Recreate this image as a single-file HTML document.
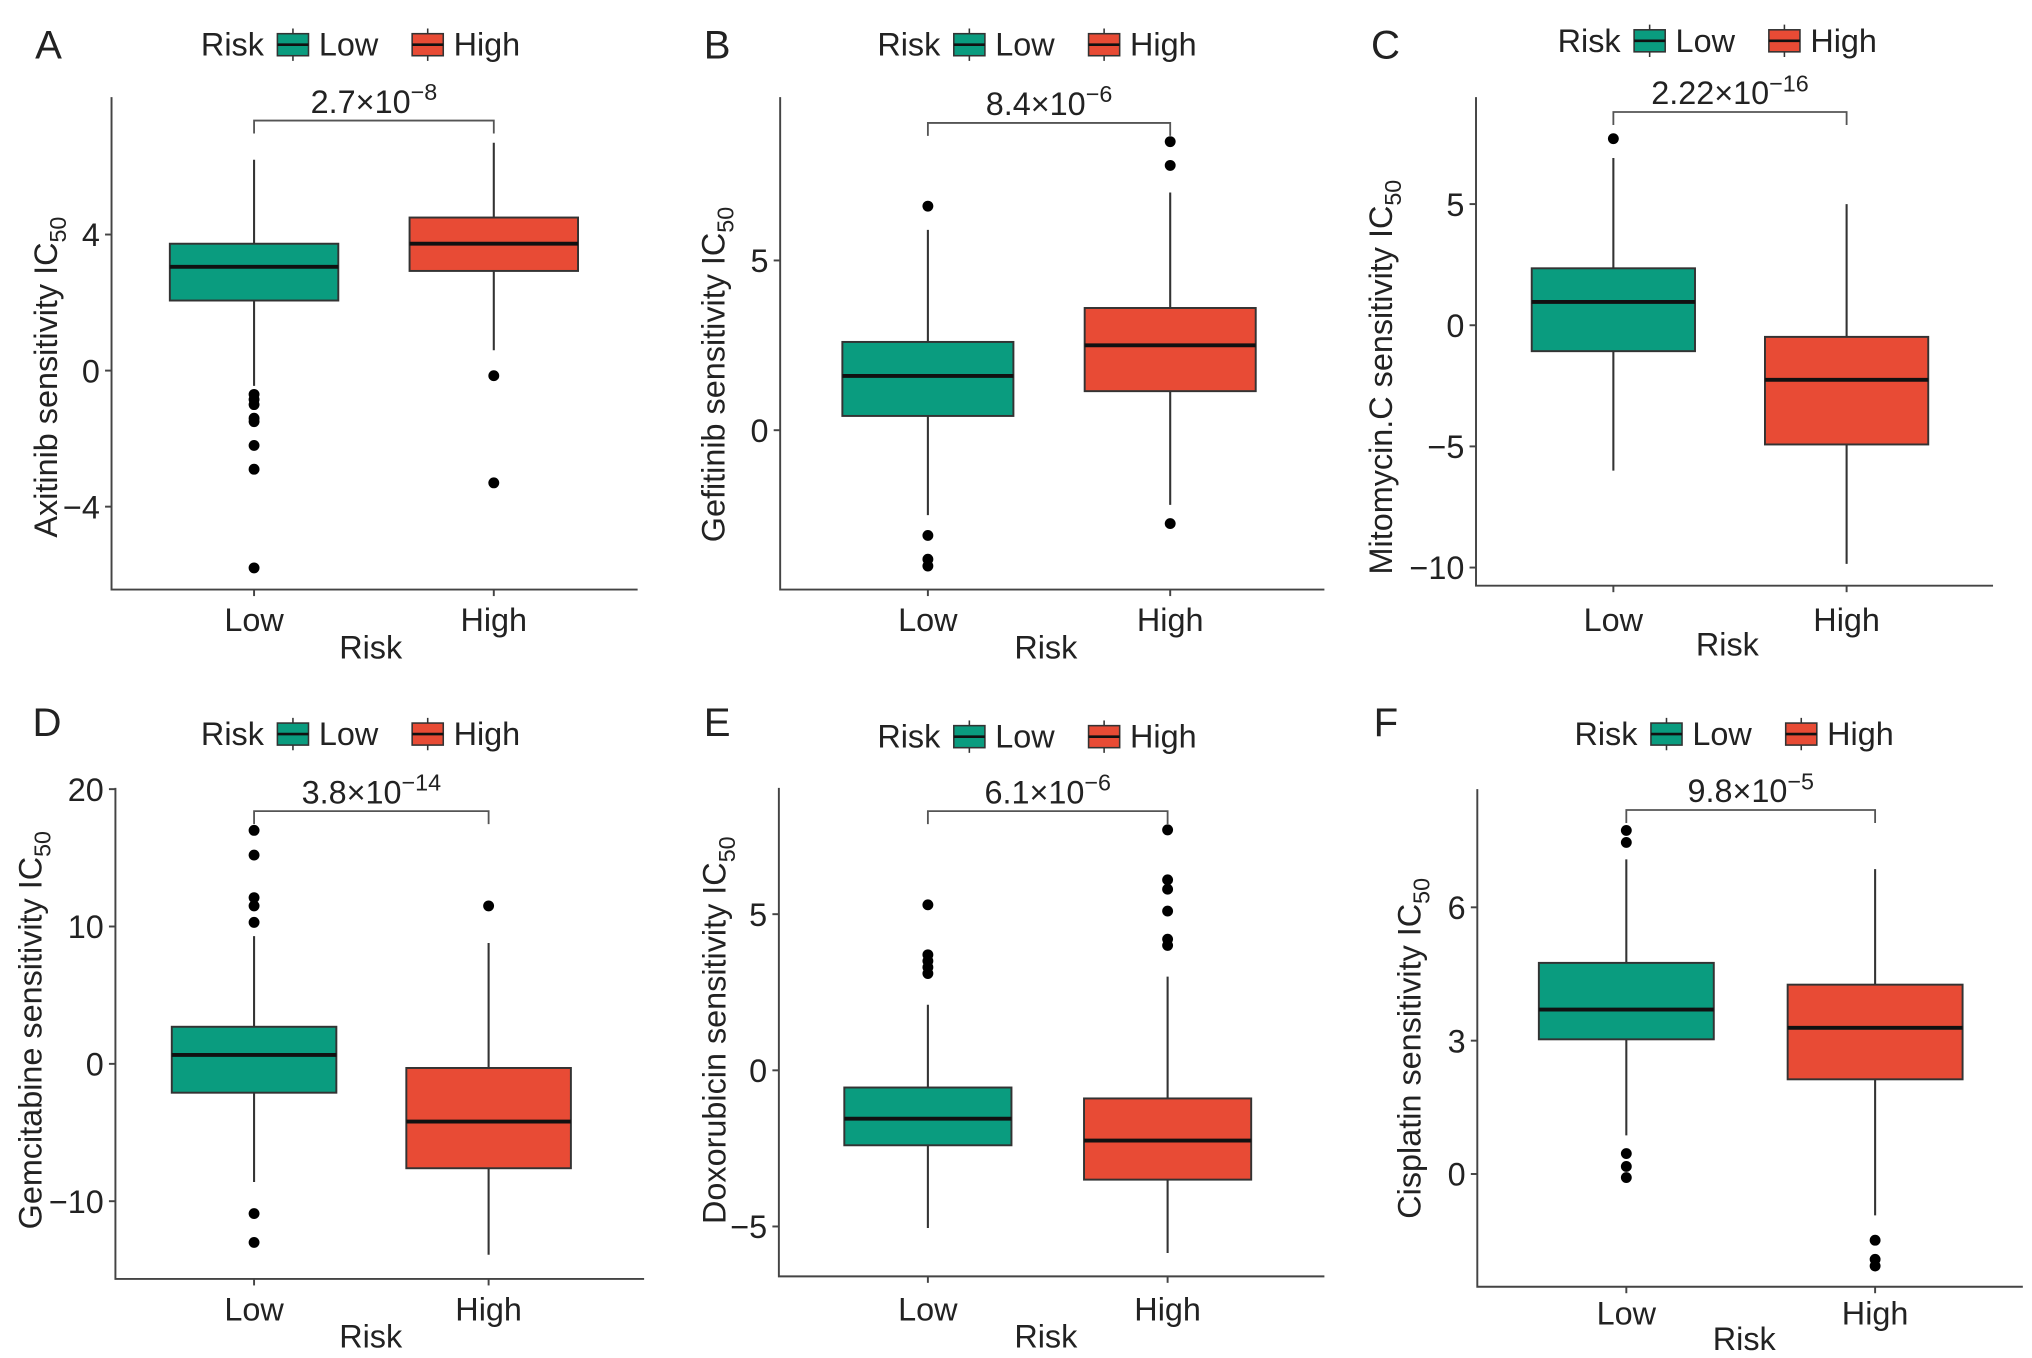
<!DOCTYPE html>
<html><head><meta charset="utf-8"><style>
html,body{margin:0;padding:0;background:#fff}
svg{display:block}
text{font-family:"Liberation Sans",Arial,sans-serif;fill:#222}
</style></head><body>
<svg id="fig" width="2032" height="1358" viewBox="0 0 1568 1048" xmlns="http://www.w3.org/2000/svg"></svg>
<script>
// ---- data ----
const categories = ["Low","High"];
const drugs = ["Axitinib","Gefitinib","Mitomycin.C","Gemcitabine","Doxorubicin","Cisplatin"];
const pvals = [["2.7","−8"],["8.4","−6"],["2.22","−16"],["3.8","−14"],["6.1","−6"],["9.8","−5"]];
// [whiskerLow, q1, median, q3, whiskerHigh]
const lowStats = [[-0.45,2.06,3.05,3.73,6.2],[-2.5,0.42,1.6,2.6,5.9],[-6.0,-1.07,0.96,2.35,6.9],[-8.6,-2.1,0.65,2.7,9.3],[-5.05,-2.4,-1.55,-0.55,2.1],[0.87,3.03,3.7,4.75,7.08]];
const highStats = [[0.6,2.93,3.73,4.5,6.7],[-2.2,1.15,2.5,3.6,7.0],[-9.85,-4.92,-2.25,-0.48,5.0],[-13.9,-7.6,-4.2,-0.3,8.8],[-5.85,-3.5,-2.25,-0.9,3.0],[-0.93,2.13,3.29,4.26,6.86]];
const lowOutliers = [[-0.7,-0.85,-1,-1.4,-1.5,-2.2,-2.9,-5.8],[6.6,-3.1,-3.8,-4.0],[7.7],[17,15.2,12.1,11.5,10.3,-10.9,-13],[5.3,3.7,3.5,3.3,3.1],[7.73,7.46,0.46,0.17,-0.08]];
const highOutliers = [[-0.15,-3.3],[8.5,7.8,-2.75],[],[11.5],[7.7,6.1,5.8,5.1,4.2,4.0],[-1.49,-1.92,-2.07]];
const bracketVals = [7.35,9.05,8.8,18.4,8.3,8.19];
const tickVals = [[-4,0,4],[0,5],[-10,-5,0,5],[-10,0,10,20],[-5,0,5],[0,3,6]];
const tickLabels = [["−4","0","4"],["0","5"],["−10","−5","0","5"],["−10","0","10","20"],["−5","0","5"],["0","3","6"]];

// ---- layout (pixel calibration, not data) ----
const L = [
 {letter:"A",lx:27,ly:45,ax:86,top:75,bot:455,right:492,c:[196,381],bw:130,y0:286,ppu:26.25,leg:[155,43],ytx:44,yty:291,xl:487,xt:508,rx:286},
 {letter:"B",lx:543,ly:45,ax:602,top:75,bot:455,right:1022,c:[716,903],bw:132,y0:332,ppu:26.2,leg:[677,43],ytx:559,yty:289,xl:487,xt:508,rx:807},
 {letter:"C",lx:1058,ly:45,ax:1139,top:75,bot:452,right:1538,c:[1245,1425],bw:126,y0:251,ppu:18.7,leg:[1202,40],ytx:1074,yty:291,xl:487,xt:506,rx:1333},
 {letter:"D",lx:25,ly:568,ax:89,top:608,bot:987,right:497,c:[196,377],bw:127,y0:821,ppu:10.6,leg:[155,575],ytx:32,yty:795,xl:1019,xt:1040,rx:286},
 {letter:"E",lx:543,ly:568,ax:601,top:608,bot:985,right:1022,c:[716,901],bw:129,y0:826,ppu:24.1,leg:[677,577],ytx:560,yty:795,xl:1019,xt:1040,rx:807},
 {letter:"F",lx:1060,ly:568,ax:1140,top:609,bot:993,right:1561,c:[1255,1447],bw:135,y0:906,ppu:34.3,leg:[1215,575],ytx:1096,yty:809,xl:1022,xt:1042,rx:1346}
];
const colors = ["#0a9c7f","#e84b35"];
const svg = document.getElementById('fig');
const NS = "http://www.w3.org/2000/svg";
function mk(tag, attrs, parent, txt){
  const e=document.createElementNS(NS,tag);
  for(const k in attrs) e.setAttribute(k,attrs[k]);
  if(txt!==undefined) e.textContent=txt;
  (parent||svg).appendChild(e); return e;
}
drugs.forEach((drug,i)=>{
  const p=L[i];
  const g=mk('g',{});
  
  
  const y=v=>p.y0-v*p.ppu;
  const t=mk('text',{x:p.lx,y:p.ly,'font-size':31},g,p.letter);
  
  
  // legend
  const lg=mk('g',{},g);
  
  
  const [lx,ly]=p.leg;
  mk('text',{x:lx,y:ly,'font-size':25},lg,"Risk");
  [0,1].forEach(k=>{
    const bx=lx+(k?163:59);
    const e=mk('g',{},lg);
    
    
    mk('line',{x1:bx+12,x2:bx+12,y1:ly-21,y2:ly+4,stroke:'#333','stroke-width':1.2},e);
    mk('rect',{x:bx,y:ly-17,width:24,height:17,fill:colors[k],stroke:'#333','stroke-width':1.2},e);
    mk('line',{x1:bx,x2:bx+24,y1:ly-8.5,y2:ly-8.5,stroke:'#111','stroke-width':2},e);
    mk('text',{x:bx+32,y:ly,'font-size':25},e,categories[k]);
  });
  // axes
  const ax=mk('path',{d:`M${p.ax},${p.top}V${p.bot}H${p.right}`,fill:'none',stroke:'#444','stroke-width':1.5},g);
  
  
  tickVals[i].forEach((v,j)=>{
    mk('line',{x1:p.ax-5,x2:p.ax,y1:y(v),y2:y(v),stroke:'#444','stroke-width':1.5},g);
    const tl=mk('text',{x:p.ax-9,y:y(v)+9,'font-size':25,'text-anchor':'end'},g,tickLabels[i][j]);
    
    
  });
  categories.forEach((c,k)=>{
    mk('line',{x1:p.c[k],x2:p.c[k],y1:p.bot,y2:p.bot+5,stroke:'#444','stroke-width':1.5},g);
    const xl=mk('text',{x:p.c[k],y:p.xl,'font-size':25,'text-anchor':'middle'},g,c);
    
    
  });
  const xt=mk('text',{x:p.rx,y:p.xt,'font-size':25,'text-anchor':'middle'},g,"Risk");
  
  
  const yt=mk('text',{x:p.ytx,y:p.yty,'font-size':25,'text-anchor':'middle',transform:`rotate(-90 ${p.ytx} ${p.yty})`},g);
  
  
  mk('tspan',{},yt,drug+" sensitivity IC");
  mk('tspan',{'font-size':18,dy:7},yt,"50");
  // boxes
  [lowStats[i],highStats[i]].forEach((s,k)=>{
    const cx=p.c[k], hw=p.bw/2;
    const bg=mk('g',{},g);
    
    
    mk('line',{x1:cx,x2:cx,y1:y(s[0]),y2:y(s[4]),stroke:'#333','stroke-width':1.6},bg);
    mk('rect',{x:cx-hw,y:y(s[3]),width:p.bw,height:y(s[1])-y(s[3]),fill:colors[k],stroke:'#333','stroke-width':1.5},bg);
    mk('line',{x1:cx-hw,x2:cx+hw,y1:y(s[2]),y2:y(s[2]),stroke:'#111','stroke-width':3},bg);
    (k?highOutliers:lowOutliers)[i].forEach(v=>{
      const o=mk('circle',{cx:cx,cy:y(v),r:4.2,fill:'#000'},bg);
      
      
    });
  });
  // bracket
  const by=y(bracketVals[i]);
  const br=mk('path',{d:`M${p.c[0]},${by+10}V${by}H${p.c[1]}V${by+10}`,fill:'none',stroke:'#555','stroke-width':1.4},g);
  
  
  const pt=mk('text',{x:(p.c[0]+p.c[1])/2,y:by-6,'font-size':25,'text-anchor':'middle'},g);
  
  
  mk('tspan',{},pt,pvals[i][0]+"×10");
  mk('tspan',{'font-size':18,dy:-10},pt,pvals[i][1]);
});
</script>
</body></html>
